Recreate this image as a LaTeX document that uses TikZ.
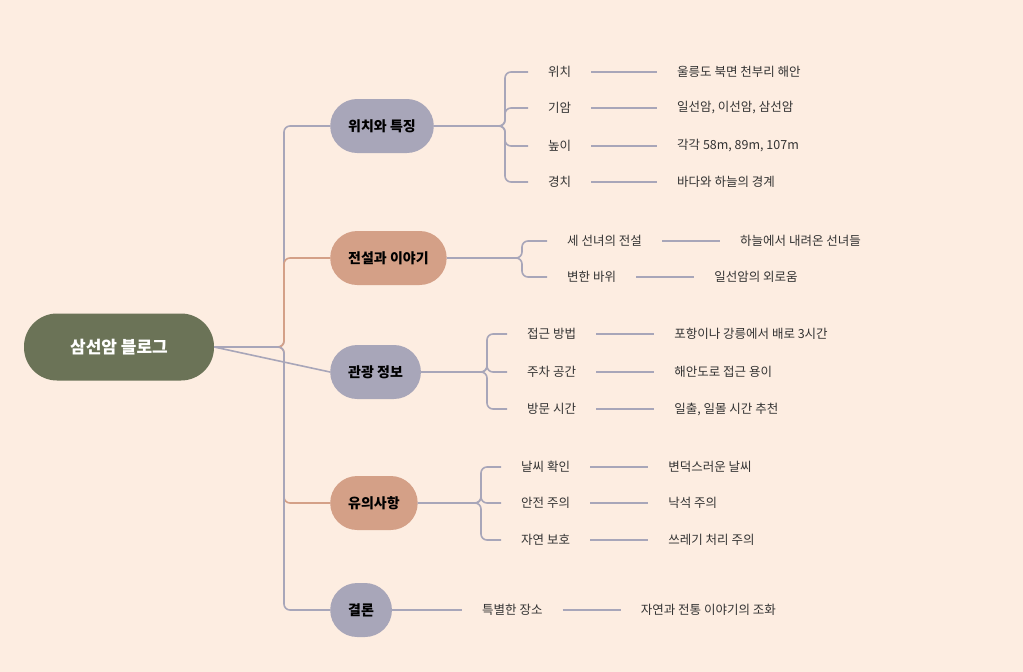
\documentclass[tikz,border=0pt]{standalone}
\usepackage{fontspec}
\setmainfont{Noto Sans CJK KR}
\usetikzlibrary{positioning}
\definecolor{bgc}{HTML}{FDEDE1}
\definecolor{rootc}{HTML}{6B7357}
\definecolor{greyc}{HTML}{A8A6B9}
\definecolor{tanc}{HTML}{D4A087}
\definecolor{txtc}{HTML}{333333}
\tikzset{
  rootnode/.style={fill=rootc,text=white,font=\fontsize{17}{20}\selectfont\bfseries,minimum width=190pt,minimum height=67pt,rounded corners=33pt},
  branch/.style={text=black,font=\fontsize{14}{17}\selectfont\bfseries,minimum height=54pt,inner xsep=18pt,rounded corners=27pt,anchor=west},
  leaf/.style={text=txtc,font=\fontsize{12.5}{15}\selectfont,inner xsep=20pt,inner ysep=2pt,anchor=west},
  detail/.style={leaf,right=58pt of #1},
  linest/.style={draw=greyc,line width=1.6pt,rounded corners=6pt},
  linetan/.style={draw=tanc,line width=1.6pt,rounded corners=6pt}
}
\begin{document}
\begin{tikzpicture}[x=1pt,y=-1pt]
	%%background
	\fill [bgc] (0,0) rectangle (1023,672);
	%%root and branches
	\node [rootnode] (root) at (119,347) {삼선암 블로그};
	\node [branch,fill=greyc] (loc) at (330,126) {위치와 특징};
	\node [branch,fill=tanc] (leg) at (330,258) {전설과 이야기};
	\node [branch,fill=greyc] (tour) at (330,372) {관광 정보};
	\node [branch,fill=tanc] (care) at (330,503) {유의사항};
	\node [branch,fill=greyc] (concl) at (330,610) {결론};
	%%trunk
	\coordinate (hub) at (284,347);
	\draw [linest] (root.east) -- (hub) |- (loc.west);
	\draw [linetan] (root.east) -- (hub) |- (leg.west);
	\draw [linest] (root.east) -- (tour.west);
	\draw [linetan] (root.east) -- (hub) |- (care.west);
	\draw [linest] (root.east) -- (hub) |- (concl.west);
	%%location
	\coordinate (locbus) at (505,126);
	\node [leaf] (locA) at (528,72) {위치};
	\node [leaf] (locB) at (528,108) {기암};
	\node [leaf] (locC) at (528,146) {높이};
	\node [leaf] (locD) at (528,182) {경치};
	\node [leaf] (locAd) at (657,72) {울릉도 북면 천부리 해안};
	\node [leaf] (locBd) at (657,108) {일선암, 이선암, 삼선암};
	\node [leaf] (locCd) at (657,146) {각각 58m, 89m, 107m};
	\node [leaf] (locDd) at (657,182) {바다와 하늘의 경계};
	\foreach \k in {A,B,C,D}{
		\draw [linest] (loc.east) -- (locbus) |- (loc\k.west);
		\draw [linest] (loc\k.east) -- (loc\k d.west);
	}
	%%legend
	\coordinate (legbus) at (522,258);
	\node [leaf] (legA) at (547,241) {세 선녀의 전설};
	\node [leaf] (legB) at (547,277) {변한 바위};
	\node [detail=legA] (legAd) {하늘에서 내려온 선녀들};
	\node [detail=legB] (legBd) {일선암의 외로움};
	\foreach \k in {A,B}{
		\draw [linest] (leg.east) -- (legbus) |- (leg\k.west);
		\draw [linest] (leg\k.east) -- (leg\k d.west);
	}
	%%tour
	\coordinate (tourbus) at (487,372);
	\node [leaf] (tourA) at (507,334) {접근 방법};
	\node [leaf] (tourB) at (507,372) {주차 공간};
	\node [leaf] (tourC) at (507,409) {방문 시간};
	\node [detail=tourA] (tourAd) {포항이나 강릉에서 배로 3시간};
	\node [detail=tourB] (tourBd) {해안도로 접근 용이};
	\node [detail=tourC] (tourCd) {일출, 일몰 시간 추천};
	\foreach \k in {A,B,C}{
		\draw [linest] (tour.east) -- (tourbus) |- (tour\k.west);
		\draw [linest] (tour\k.east) -- (tour\k d.west);
	}
	%%care
	\coordinate (carebus) at (481,503);
	\node [leaf] (careA) at (501,467) {날씨 확인};
	\node [leaf] (careB) at (501,503) {안전 주의};
	\node [leaf] (careC) at (501,540) {자연 보호};
	\node [detail=careA] (careAd) {변덕스러운 날씨};
	\node [detail=careB] (careBd) {낙석 주의};
	\node [detail=careC] (careCd) {쓰레기 처리 주의};
	\foreach \k in {A,B,C}{
		\draw [linest] (care.east) -- (carebus) |- (care\k.west);
		\draw [linest] (care\k.east) -- (care\k d.west);
	}
	%%conclusion
	\node [leaf] (conclA) at (462,610) {특별한 장소};
	\node [detail=conclA] (conclAd) {자연과 전통 이야기의 조화};
	\draw [linest] (concl.east) -- (conclA.west);
	\draw [linest] (conclA.east) -- (conclAd.west);
\end{tikzpicture}
\end{document}
